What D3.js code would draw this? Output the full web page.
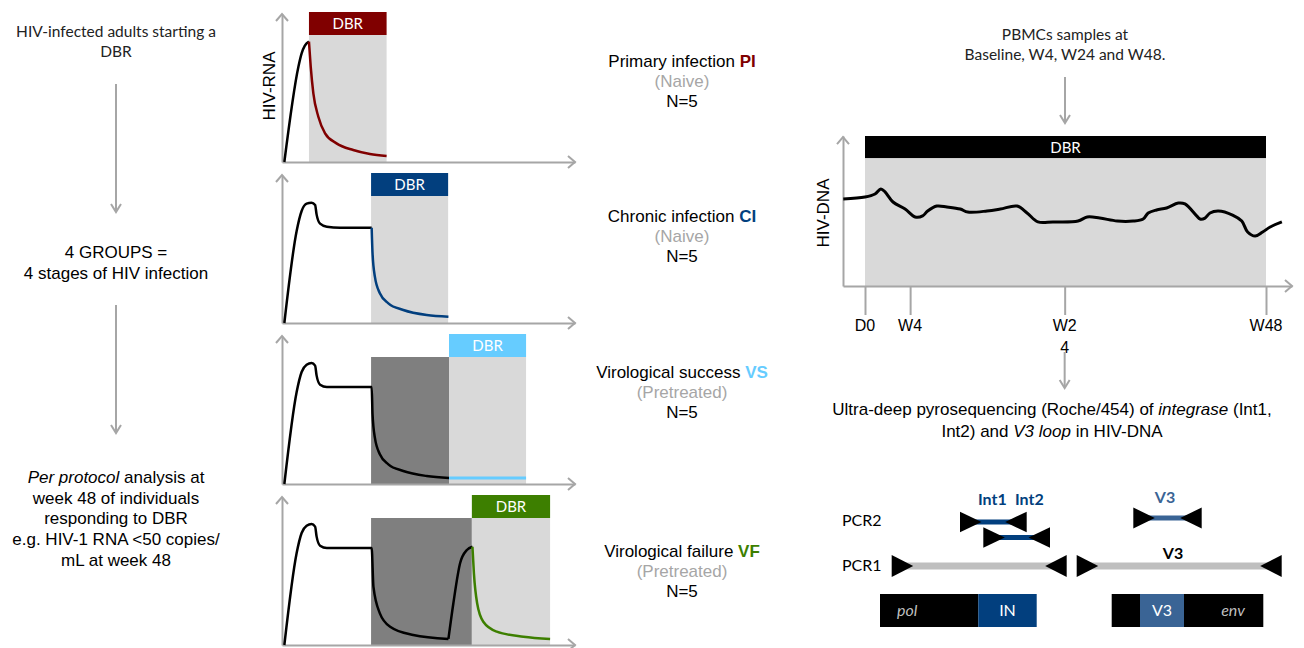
<!DOCTYPE html>
<html>
<head>
<meta charset="utf-8">
<script src="https://cdn.jsdelivr.net/npm/d3@7"></script>
<style>
  body { margin: 0; background: #fff; }
  svg { display: block; }
</style>
</head>
<body>
<svg id="chart" width="1304" height="648"></svg>
<script>
// ---------------- DATA ----------------
const groupNames  = ["Primary infection", "Chronic infection", "Virological success", "Virological failure"];
const groupCodes  = ["PI", "CI", "VS", "VF"];
const groupStatus = ["(Naive)", "(Naive)", "(Pretreated)", "(Pretreated)"];
const groupN      = ["N=5", "N=5", "N=5", "N=5"];
const groupColors = ["#800000", "#023f7e", "#66ccff", "#3d7f00"];

// HIV-RNA schematic panels (time 0-100, RNA level 0-100, arbitrary units)
const dbrStart  = [9.2, 30.4, 57.0, 64.8];
const dbrEnd    = [35.7, 56.7, 83.3, 91.5];
const prevStart = [null, null, 30.4, 30.4];
const prevEnd   = [null, null, 57.0, 64.8];

const piPreT = [0.8, 5.6, 6.7, 7.8, 9.2];
const piPreV = [0, 64.4, 73.4, 78.6, 81.3];
const piDbrT = [9.2, 9.8, 10.7, 12.4, 14.7, 18.6, 24.3, 30.0, 35.7];
const piDbrV = [81.3, 64.4, 46.4, 30.6, 19.4, 12.6, 8.1, 5.4, 4.1];

const ciPreT = [0.8, 5.0, 6.7, 8.4, 10.1, 11.3, 11.8, 13.0, 15.3, 19.8, 30.6];
const ciPreV = [0, 62.2, 75.7, 80.6, 81.3, 79.7, 73.4, 67.1, 65.0, 64.4, 64.4];
const ciDbrT = [30.6, 30.9, 31.7, 33.4, 36.3, 41.4, 49.4, 56.8];
const ciDbrV = [64.4, 47.1, 31.3, 20.1, 13.3, 8.8, 5.4, 4.3];

const vsPreT = [0.8, 5.0, 6.7, 8.4, 10.1, 11.3, 11.8, 13.0, 15.3, 19.8, 30.6, 30.9, 31.7, 33.4, 36.3, 41.4, 49.4, 57.0];
const vsPreV = [0, 62.2, 75.7, 80.6, 81.8, 80.0, 73.4, 67.1, 65.5, 65.5, 65.5, 47.1, 31.3, 20.1, 13.3, 8.8, 5.4, 4.1];
const vsDbrT = [57.0, 83.3];
const vsDbrV = [4.1, 4.1];

const vfPreT = [0.8, 5.0, 6.7, 8.4, 10.1, 11.3, 11.8, 13.0, 15.3, 19.8, 30.6, 31.2, 33.4, 36.9, 44.8, 56.8];
const vfPreV = [0, 62.2, 75.7, 80.6, 81.8, 80.0, 73.4, 67.1, 65.5, 65.5, 65.5, 39.4, 21.4, 12.4, 6.8, 4.1];
const vfReboundT = [56.8, 58.5, 60.8, 63.1, 65.0];
const vfReboundV = [4.1, 28.4, 55.4, 64.2, 66.4];
const vfDbrT = [65.0, 65.5, 66.6, 68.7, 73.3, 82.4, 91.5];
const vfDbrV = [66.4, 48.4, 28.2, 15.7, 9.0, 5.6, 4.1];

// HIV-DNA schematic (weeks, level 0-100)
const dnaWeek  = [-2.6, 0, 1.2, 1.9, 2.4, 3.35, 4.8, 6.0, 6.9, 7.5, 8.6, 9.8, 11.4, 12.3, 14.6, 16.2, 18.2, 19.4, 20.7, 22.5, 25.5, 26.6, 28.1, 30.2, 32.1, 33.3, 33.9, 34.9, 36.1, 37.5, 38.3, 39.7, 40.1, 40.7, 41.3, 42.3, 44.0, 45.1, 45.8, 46.7, 47.6, 48.5, 49.9];
const dnaLevel = [58, 59.3, 61.3, 64.7, 62.7, 56, 51.3, 46, 46.7, 50, 53.3, 52.7, 51.3, 49.3, 50, 51.3, 53.3, 48.7, 42.7, 42.7, 43.3, 46, 45.3, 43.3, 43.3, 44.7, 48.7, 50.7, 52, 55.3, 54.7, 46.7, 44.7, 45.3, 48.7, 50, 47.3, 43.3, 36, 33.3, 36, 39.3, 42.7];
const dnaTicks = [0, 5.4, 23.9, 48];
const dnaTickLines = [["D0"], ["W4"], ["W2", "4"], ["W48"]];

// Amplicons (genome position units)
const ampNames = ["Int1", "Int2", "V3", "PCR1 pol", "PCR1 env"];
const ampStart = [80, 103.3, 253.3, 11.7, 196.7];
const ampEnd   = [146.7, 170, 321.7, 186.7, 401.7];
const geneNames = ["pol", "IN", "env", "V3"];
const geneStart = [0, 98.3, 231.7, 260];
const geneEnd   = [98.3, 156.7, 383.3, 304];

// ---------------- DRAWING ----------------
const svg = d3.select("#chart");
const AX = "#a6a6a6";
const SANS = "'Liberation Sans', Arial, sans-serif";
const CAL = "Lato, 'Open Sans', sans-serif";

function chevron(g, x, y, dir, len, half) {
  let pts;
  if (dir === "up") pts = [[x - half, y + len], [x, y], [x + half, y + len]];
  else if (dir === "down") pts = [[x - half, y - len], [x, y], [x + half, y - len]];
  else pts = [[x - len, y - half], [x, y], [x - len, y + half]];
  g.append("path").attr("d", d3.line()(pts))
    .attr("fill", "none").attr("stroke", AX).attr("stroke-width", 2)
    .attr("stroke-linejoin", "miter");
}
function vArrow(x, y1, y2) {
  svg.append("line").attr("x1", x).attr("x2", x).attr("y1", y1).attr("y2", y2 - 1)
    .attr("stroke", AX).attr("stroke-width", 2);
  chevron(svg, x, y2, "down", 8, 5);
}
function textLines(lines, x, y0, dy, opts) {
  const t = svg.append("text").attr("text-anchor", "middle")
    .attr("font-family", opts.font).attr("font-size", opts.size).attr("fill", opts.fill || "#000");
  lines.forEach((l, i) => {
    const ts = t.append("tspan").attr("x", x).attr("y", y0 + i * dy);
    if (Array.isArray(l)) {
      l.forEach(seg => ts.append("tspan").attr("font-style", seg.i ? "italic" : null).text(seg.t));
    } else ts.text(l);
  });
  return t;
}

// ---- left column ----
textLines(["HIV-infected adults starting a", "DBR"], 116, 37, 19.5, { font: CAL, size: 15.5, fill: "#222" });
vArrow(116, 84, 212);
textLines(["4 GROUPS =", "4 stages of HIV infection"], 116, 258, 21, { font: SANS, size: 17 });
vArrow(116, 305, 433);
textLines([[{ t: "Per protocol", i: true }, { t: " analysis at" }], "week 48 of individuals", "responding to DBR",
  "e.g. HIV-1 RNA <50 copies/", "mL at week 48"], 116, 483, 20.7, { font: SANS, size: 17 });

// ---- RNA panels ----
const rx = d3.scaleLinear().domain([0, 100]).range([282, 575]);
const preT = [piPreT, ciPreT, vsPreT, vfPreT];
const preV = [piPreV, ciPreV, vsPreV, vfPreV];
const dbrT = [piDbrT, ciDbrT, vsDbrT, vfDbrT];
const dbrV = [piDbrV, ciDbrV, vsDbrV, vfDbrV];
const textBase = [67, 222, 378, 557];

groupCodes.forEach((code, i) => {
  const axisY = 162 + 161 * i;
  const ry = d3.scaleLinear().domain([0, 100]).range([axisY, axisY - 148]);
  const g = svg.append("g");
  const shadeTop = axisY - 127;
  if (prevStart[i] !== null) {
    g.append("rect").attr("x", rx(prevStart[i])).attr("y", shadeTop)
      .attr("width", rx(prevEnd[i]) - rx(prevStart[i])).attr("height", axisY - shadeTop).attr("fill", "#7f7f7f");
  }
  g.append("rect").attr("x", rx(dbrStart[i])).attr("y", shadeTop)
    .attr("width", rx(dbrEnd[i]) - rx(dbrStart[i])).attr("height", axisY - shadeTop).attr("fill", "#d9d9d9");
  g.append("rect").attr("x", rx(dbrStart[i])).attr("y", axisY - 150)
    .attr("width", rx(dbrEnd[i]) - rx(dbrStart[i])).attr("height", 23).attr("fill", groupColors[i]);
  g.append("text").attr("x", (rx(dbrStart[i]) + rx(dbrEnd[i])) / 2).attr("y", axisY - 133)
    .attr("text-anchor", "middle").attr("font-family", CAL).attr("font-size", 15).attr("fill", "#fff").text("DBR");

  // axes
  const xa = g.append("g").attr("transform", `translate(0,${axisY})`)
    .call(d3.axisBottom(rx).tickValues([]).tickSizeOuter(0));
  const ya = g.append("g").attr("transform", `translate(${rx(0)},0)`)
    .call(d3.axisLeft(ry).tickValues([]).tickSizeOuter(0));
  [xa, ya].forEach(a => a.select(".domain").attr("stroke", AX).attr("stroke-width", 2));
  chevron(g, rx(100), axisY, "right", 7, 6);
  chevron(g, rx(0), ry(100), "up", 7, 6);

  const line = d3.line().x(d => rx(d[0])).y(d => ry(d[1])).curve(d3.curveMonotoneX);
  const pre = preT[i].map((t, k) => [t, preV[i][k]]);
  g.append("path").attr("d", line(pre)).attr("fill", "none").attr("stroke", "#000").attr("stroke-width", 2.5);
  if (i === 3) {
    const rb = vfReboundT.map((t, k) => [t, vfReboundV[k]]);
    g.append("path").attr("d", line(rb)).attr("fill", "none").attr("stroke", "#000").attr("stroke-width", 2.5);
  }
  const dbr = dbrT[i].map((t, k) => [t, dbrV[i][k]]);
  g.append("path").attr("d", line(dbr)).attr("fill", "none").attr("stroke", groupColors[i])
    .attr("stroke-width", i === 2 ? 3 : 2.5);

  // group text
  const t = svg.append("text").attr("text-anchor", "middle").attr("font-family", SANS).attr("font-size", 17);
  const l1 = t.append("tspan").attr("x", 682).attr("y", textBase[i]);
  l1.append("tspan").text(groupNames[i] + " ");
  l1.append("tspan").attr("font-weight", "bold").attr("fill", groupColors[i]).text(code);
  t.append("tspan").attr("x", 682).attr("y", textBase[i] + 20).attr("fill", "#a6a6a6").text(groupStatus[i]);
  t.append("tspan").attr("x", 682).attr("y", textBase[i] + 40).text(groupN[i]);
});
svg.append("text").attr("transform", "translate(269,86) rotate(-90)").attr("text-anchor", "middle")
  .attr("dominant-baseline", "central").attr("font-family", SANS).attr("font-size", 17).text("HIV-RNA");

// ---- DNA panel ----
textLines(["PBMCs samples at", "Baseline, W4, W24 and W48."], 1065, 40, 20, { font: CAL, size: 15.5, fill: "#222" });
vArrow(1065, 77, 123);

const dx = d3.scaleLinear().domain([0, 48]).range([865, 1266]);
const dy = d3.scaleLinear().domain([0, 100]).range([286, 136]);
const dxAxis = dx.copy().domain([dx.invert(843), dx.invert(1292)]).range([843, 1292]);
const dg = svg.append("g");
dg.append("rect").attr("x", dx(0)).attr("y", dy(85.3)).attr("width", dx(48) - dx(0)).attr("height", dy(0) - dy(85.3)).attr("fill", "#d9d9d9");
dg.append("rect").attr("x", dx(0)).attr("y", dy(100)).attr("width", dx(48) - dx(0)).attr("height", dy(85.3) - dy(100)).attr("fill", "#000");
dg.append("text").attr("x", dx(24)).attr("y", 153).attr("text-anchor", "middle").attr("font-family", CAL)
  .attr("font-size", 15).attr("fill", "#fff").text("DBR");

const dxa = dg.append("g").attr("transform", `translate(0,${dy(0)})`)
  .call(d3.axisBottom(dxAxis).tickValues(dnaTicks).tickSizeInner(29).tickSizeOuter(0).tickFormat(""));
dxa.selectAll("line").attr("stroke", AX).attr("stroke-width", 2);
const dya = dg.append("g").attr("transform", `translate(843,0)`)
  .call(d3.axisLeft(dy.copy().domain([0, 99.3])).tickValues([]).tickSizeOuter(0));
[dxa, dya].forEach(a => a.select(".domain").attr("stroke", AX).attr("stroke-width", 2));
chevron(dg, 1292, dy(0), "right", 7, 6);
chevron(dg, 843, dy(99.3), "up", 7, 6);

dnaTicks.forEach((w, i) => {
  const tt = dg.append("text").attr("text-anchor", "middle").attr("font-family", SANS).attr("font-size", 16);
  dnaTickLines[i].forEach((s, k) => tt.append("tspan").attr("x", dxAxis(w)).attr("y", 331 + k * 22).text(s));
});
vArrow(dxAxis(dnaTicks[2]), 352, 388);

const dline = d3.line().x(d => dx(d[0])).y(d => dy(d[1])).curve(d3.curveCatmullRom.alpha(0.5));
dg.append("path").attr("d", dline(dnaWeek.map((w, k) => [w, dnaLevel[k]])))
  .attr("fill", "none").attr("stroke", "#000").attr("stroke-width", 3).attr("stroke-linejoin", "round");
svg.append("text").attr("transform", "translate(823,213) rotate(-90)").attr("text-anchor", "middle")
  .attr("dominant-baseline", "central").attr("font-family", SANS).attr("font-size", 17).text("HIV-DNA");

textLines([
  [{ t: "Ultra-deep pyrosequencing (Roche/454) of " }, { t: "integrase", i: true }, { t: " (Int1," }],
  [{ t: "Int2) and " }, { t: "V3 loop", i: true }, { t: " in HIV-DNA" }]
], 1052, 415, 21.5, { font: SANS, size: 17 });

// ---- amplicon diagram ----
const gx = d3.scaleLinear().domain([0, 402]).range([880, 1282]);
const ampRowY = [522, 537.5, 518, 566, 566];
const ampColor = ["#023f7e", "#023f7e", "#3a6495", "#bfbfbf", "#bfbfbf"];
const ampBar = [5, 5, 5, 7, 7];
const ampHalf = [10.3, 10.3, 10.5, 11, 11];
const pg = svg.append("g");
ampNames.forEach((n, i) => {
  const x1 = gx(ampStart[i]), x2 = gx(ampEnd[i]), y = ampRowY[i], h = ampHalf[i], w = 21.5;
  pg.append("rect").attr("x", x1 + 10).attr("y", y - ampBar[i] / 2).attr("width", x2 - x1 - 20)
    .attr("height", ampBar[i]).attr("fill", ampColor[i]);
  pg.append("path").attr("d", d3.line()([[x1, y - h], [x1 + w, y], [x1, y + h]]) + "Z").attr("fill", "#000");
  pg.append("path").attr("d", d3.line()([[x2, y - h], [x2 - w, y], [x2, y + h]]) + "Z").attr("fill", "#000");
});
pg.append("text").attr("x", 842).attr("y", 525.5).attr("font-family", CAL).attr("font-size", 16).text("PCR2");
pg.append("text").attr("x", 842).attr("y", 570.5).attr("font-family", CAL).attr("font-size", 16).text("PCR1");
pg.append("text").attr("x", 978).attr("y", 504.5).attr("font-family", CAL).attr("font-size", 16)
  .attr("font-weight", "bold").attr("fill", "#023f7e").text(ampNames[0]);
pg.append("text").attr("x", 1015).attr("y", 504.5).attr("font-family", CAL).attr("font-size", 16)
  .attr("font-weight", "bold").attr("fill", "#023f7e").text(ampNames[1]);
pg.append("text").attr("x", 1165).attr("y", 502.5).attr("text-anchor", "middle").attr("font-family", CAL)
  .attr("font-size", 16).attr("font-weight", "bold").attr("fill", "#3a6495").text(ampNames[2]);
pg.append("text").attr("x", 1173).attr("y", 558.5).attr("text-anchor", "middle").attr("font-family", CAL)
  .attr("font-size", 16).attr("font-weight", "bold").attr("fill", "#000").text("V3");

const geneFill = ["#000", "#023f7e", "#000", "#3a6495"];
const geneText = ["#bfbfbf", "#fff", "#bfbfbf", "#fff"];
const geneItalic = [true, false, true, false];
const geneLabelX = [null, null, 1233, null];
geneNames.forEach((n, i) => {
  pg.append("rect").attr("x", gx(geneStart[i])).attr("y", 594).attr("width", gx(geneEnd[i]) - gx(geneStart[i]))
    .attr("height", 33).attr("fill", geneFill[i]);
});
geneNames.forEach((n, i) => {
  const t = pg.append("text").attr("y", 615.5).attr("font-family", CAL).attr("font-size", 16)
    .attr("fill", geneText[i]).attr("font-style", geneItalic[i] ? "italic" : null).text(n);
  if (i === 0) t.attr("x", 897);
  else if (i === 2) t.attr("x", geneLabelX[i]).attr("text-anchor", "middle");
  else t.attr("x", (gx(geneStart[i]) + gx(geneEnd[i])) / 2).attr("text-anchor", "middle");
});
</script>
</body>
</html>
